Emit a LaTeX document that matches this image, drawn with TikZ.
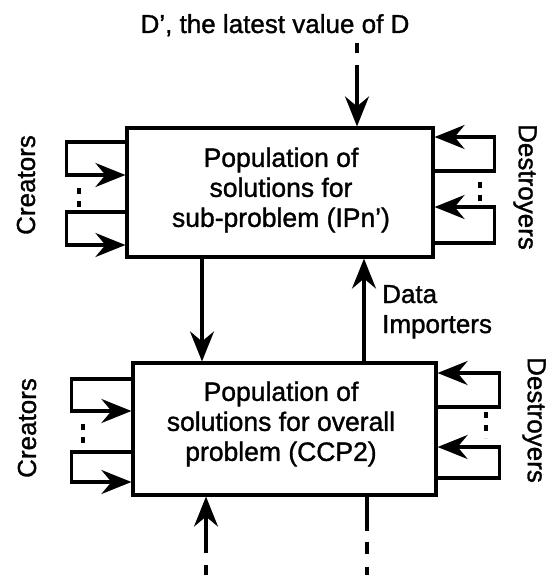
\documentclass[tikz,border=0pt]{standalone}
\usepackage{fontspec}
\setmainfont{Liberation Sans}[FakeBold=1.2]
\usetikzlibrary{arrows.meta}
\newcommand{\sq}{\char"0027\relax}
\begin{document}
\begin{tikzpicture}[x=1pt,y=-1pt,
  conn/.style={line width=3.2pt},
  arr/.style={conn,-{Stealth[length=30pt,width=24pt,inset=10pt]}},
  dotsline/.style={line width=3.2pt, dash pattern=on 6pt off 7pt},
  popbox/.style={draw, line width=3.2pt, inner sep=0pt},
  boxtext/.style={align=center, inner sep=0pt, font=\fontsize{26.5}{30}\selectfont},
  lab/.style={inner sep=0pt, font=\fontsize{26}{30}\selectfont}]
\useasboundingbox (0,0) rectangle (548,586);

% boxes
\node[popbox, minimum width=306pt, minimum height=129pt] (top) at (280,192.5) {};
\node[popbox, minimum width=303pt, minimum height=132pt] (bot) at (284.5,429) {};

% box texts
\node[boxtext] (toptext) at (281,190) {Population of\\solutions for\\sub-problem (IPn\sq)};
\node[boxtext] (bottext) at (281,424) {Population of\\solutions for overall\\problem (CCP2)};

% labels
\node[lab, anchor=base] (dlabel) at (275,33) {D\sq, the latest value of D};
\node[lab, anchor=base west] (data1) at (382,303) {Data};
\node[lab, anchor=base west] (data2) at (382,333) {Importers};
\node[lab, rotate=90] (cr1) at (26,185) {Creators};
\node[lab, rotate=90] (cr2) at (27,428) {Creators};
\node[lab, rotate=-90] (de1) at (525,187) {Destroyers};
\node[lab, rotate=-90] (de2) at (534,420) {Destroyers};

% external inputs / outputs
\coordinate (dsrc) at (357,43);
\coordinate (blsrc) at (206,575);
\coordinate (brend) at (367,575);
\draw[arr, dash pattern=on 10pt off 12pt on 300pt] (dsrc) -- (top.north -| dsrc);
\draw[arr, dash pattern=on 10pt off 12pt on 300pt] (blsrc) -- (bot.south -| blsrc);
\draw[conn, dash pattern=on 34pt off 11pt on 12pt off 13pt on 10pt] (bot.south -| brend) -- (brend);

% between boxes
\draw[arr] (top.south -| 202,0) -- (bot.north -| 202,0);
\draw[arr] (bot.north -| 364,0) -- (top.south -| 364,0);

% creators, top box
\draw[arr] (top.west |- 0,142) -- ++(-59,0) |- (top.west |- 0,175);
\draw[arr] (top.west |- 0,212) -- ++(-59,0) |- (top.west |- 0,245);
\draw[dotsline] (79,188) -- (79,207);

% destroyers, top box
\draw[arr] (top.east |- 0,171) -- ++(60,0) |- (top.east |- 0,137);
\draw[arr] (top.east |- 0,243) -- ++(60,0) |- (top.east |- 0,207);
\draw[dotsline] (480,182) -- (480,201);

% creators, bottom box
\draw[arr] (bot.west |- 0,379) -- ++(-60,0) |- (bot.west |- 0,411);
\draw[arr] (bot.west |- 0,452) -- ++(-60,0) |- (bot.west |- 0,482);
\draw[dotsline] (83,424) -- (83,443);

% destroyers, bottom box
\draw[arr] (bot.east |- 0,407) -- ++(62,0) |- (bot.east |- 0,373);
\draw[arr] (bot.east |- 0,478) -- ++(62,0) |- (bot.east |- 0,447);
\draw[dotsline] (486,412) -- (486,438);
\end{tikzpicture}
\end{document}
